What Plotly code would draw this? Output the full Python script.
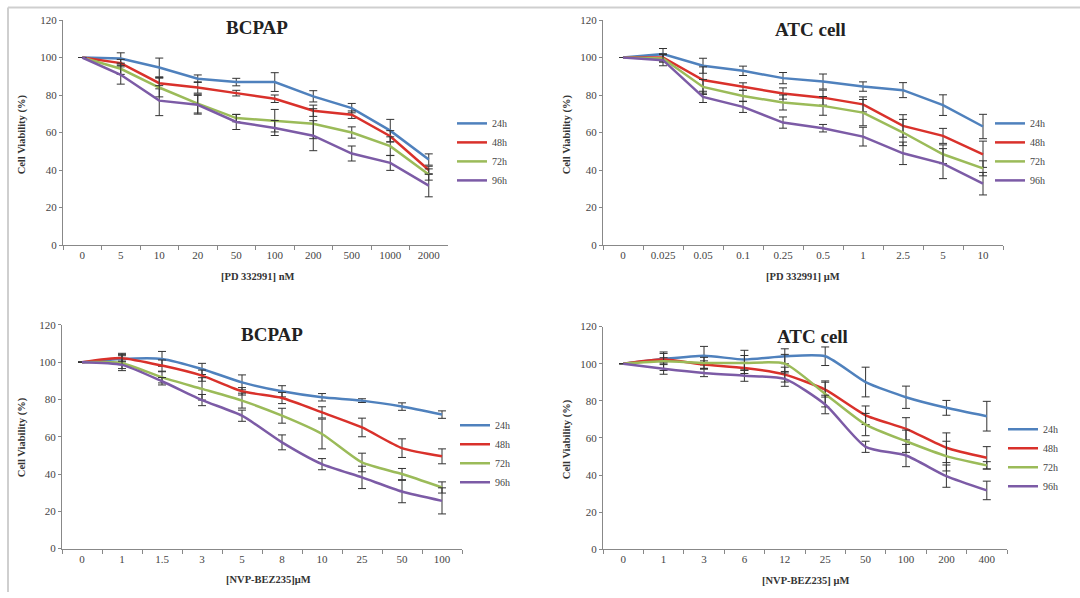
import plotly.graph_objects as go

W, H = 1080, 598

series_names = ["24h", "48h", "72h", "96h"]
colors = ["#4F81BD", "#D9312B", "#9BBB59", "#7C5BA6"]

# Panel 1: BCPAP, PD 332991 (nM)
p1_cats = ["0", "5", "10", "20", "50", "100", "200", "500", "1000", "2000"]
p1_vals = {
    "24h": [100, 99.5, 94.7, 88.7, 86.9, 86.9, 79.3, 73.0, 61.0, 45.6],
    "48h": [100, 97.0, 86.3, 84.0, 81.0, 78.0, 71.6, 69.5, 58.0, 40.0],
    "72h": [100, 94.0, 84.0, 75.4, 67.7, 66.3, 64.7, 60.0, 52.7, 37.6],
    "96h": [100, 90.8, 77.0, 74.8, 65.6, 62.4, 58.3, 48.8, 43.8, 31.7],
}
p1_err = {
    "24h": [0, 3, 5, 2, 2, 5, 3, 2.5, 6, 3],
    "48h": [0, 2, 3, 3, 1.5, 2, 3, 2, 3, 2],
    "72h": [0, 3, 5, 5, 2, 6, 8, 3, 5, 3],
    "96h": [0, 5, 8, 5, 4, 4, 8, 4, 4, 6],
}

# Panel 2: ATC cell, PD 332991 (uM)
p2_cats = ["0", "0.025", "0.05", "0.1", "0.25", "0.5", "1", "2.5", "5", "10"]
p2_vals = {
    "24h": [100, 101.8, 95.6, 92.9, 89.0, 87.2, 84.5, 82.6, 74.6, 63.2],
    "48h": [100, 100.0, 88.0, 84.5, 80.8, 78.6, 75.0, 63.5, 58.2, 48.4],
    "72h": [100, 99.5, 84.3, 79.5, 76.0, 74.2, 70.6, 60.0, 48.4, 40.9],
    "96h": [100, 98.6, 79.0, 73.7, 65.3, 62.3, 57.8, 48.9, 43.4, 32.7],
}
p2_err = {
    "24h": [0, 3, 4, 2.5, 3, 4, 2.5, 4, 5.5, 6.5],
    "48h": [0, 2, 7, 2, 3, 4, 4, 6, 4, 7],
    "72h": [0, 2, 4, 3, 4, 5, 7, 7, 5, 4],
    "96h": [0, 3, 3, 3, 3, 2, 5, 6, 8, 6],
}

# Panel 3: BCPAP, NVP-BEZ235 (uM)
p3_cats = ["0", "1", "1.5", "3", "5", "8", "10", "25", "50", "100"]
p3_vals = {
    "24h": [100, 101.8, 101.8, 96.4, 89.2, 84.4, 81.2, 79.4, 76.2, 71.9],
    "48h": [100, 102.2, 98.2, 92.8, 84.4, 80.8, 73.1, 65.0, 53.9, 49.5],
    "72h": [100, 99.5, 91.9, 85.7, 79.4, 71.3, 61.5, 46.2, 40.0, 32.8],
    "96h": [100, 98.6, 89.8, 79.7, 71.3, 57.0, 45.3, 38.2, 30.6, 25.6],
}
p3_err = {
    "24h": [0, 3, 4, 3, 4, 3, 2, 1, 2, 2],
    "48h": [0, 2, 3, 3, 2, 3, 3, 5, 5, 4],
    "72h": [0, 4, 3, 6, 4, 4, 8, 5, 3, 3],
    "96h": [0, 2, 2, 3, 3, 4, 3, 6, 6, 7],
}

# Panel 4: ATC cell, NVP-BEZ235 (uM)
p4_cats = ["0", "1", "3", "6", "12", "25", "50", "100", "200", "400"]
p4_vals = {
    "24h": [100, 102.5, 104.3, 102.2, 104.0, 104.0, 90.1, 81.9, 76.2, 71.7],
    "48h": [100, 102.2, 99.5, 97.7, 94.1, 86.0, 72.2, 64.9, 54.7, 49.3],
    "72h": [100, 101.3, 100.4, 100.4, 100.0, 83.7, 67.2, 58.2, 50.2, 45.2],
    "96h": [100, 97.3, 95.0, 93.5, 91.8, 78.0, 55.2, 50.5, 39.4, 31.7],
}
p4_err = {
    "24h": [0, 3, 5, 5, 4, 5, 8, 6, 4, 8],
    "48h": [0, 1, 2, 3, 4, 4, 5, 6, 8, 6],
    "72h": [0, 5, 3, 4, 5, 7, 6, 6, 8, 2],
    "96h": [0, 3, 2, 3, 4, 5, 3, 6, 6, 5],
}

titles = ["BCPAP", "ATC cell", "BCPAP", "ATC cell"]
xtitles = ["[PD 332991] nM", "[PD 332991] \u03bcM", "[NVP-BEZ235]\u03bcM", "[NVP-BEZ235] \u03bcM"]
ytitle = "Cell Viability (%)"

SERIF = "Liberation Serif, Times New Roman, serif"

# pixel geometry: (x_left, x_right, y_top(120), y_bottom(0))
geo = [
    (63, 448, 14.3, 243.9),
    (603, 1003, 14.3, 243.9),
    (62, 462, 325.5, 553.7),
    (603, 1007, 327.1, 554.4),
]
legend_pos = [(452, 105), (990, 105), (455, 413), (1003, 417)]
title_pos = [(257, 22), (810, 24), (272, 335), (812, 337)]
xtitle_pos = [(258, 276), (803, 276), (268, 585), (805, 586)]
ytitle_pos = [(22, 131), (567, 131), (22, 440), (567, 442)]
shapes_line = ["linear", "linear", "spline", "spline"]

panels = [
    (p1_cats, p1_vals, p1_err),
    (p2_cats, p2_vals, p2_err),
    (p3_cats, p3_vals, p3_err),
    (p4_cats, p4_vals, p4_err),
]

fig = go.Figure()
annotations = []
layout = dict(
    width=W, height=H,
    margin=dict(l=0, r=0, t=0, b=0),
    paper_bgcolor="white", plot_bgcolor="white",
    showlegend=True,
    font=dict(family=SERIF, size=10, color="#444"),
)

for i, (cats, vals, errs) in enumerate(panels):
    n = i + 1
    xa = "x" if n == 1 else f"x{n}"
    ya = "y" if n == 1 else f"y{n}"
    lg = "legend" if n == 1 else f"legend{n}"
    for s, c in zip(series_names, colors):
        fig.add_trace(go.Scatter(
            x=cats, y=vals[s], name=s, mode="lines",
            line=dict(color=c, width=2.5, shape=shapes_line[i], smoothing=0.6),
            error_y=dict(type="data", array=errs[s], visible=True,
                         color="#333", thickness=1, width=4),
            xaxis=xa, yaxis=ya, legend=lg,
        ))
    xl, xr, yt, yb = geo[i]
    layout[f"xaxis{'' if n == 1 else n}"] = dict(
        domain=[xl / W, xr / W], anchor=ya, type="category",
        tickson="boundaries", ticks="outside", ticklen=4, tickcolor="#888",
        showline=True, linecolor="#888", linewidth=1, showgrid=False,
        zeroline=False, range=[-0.5, 9.5],
        tickfont=dict(family=SERIF, size=11, color="#444"),
    )
    layout[f"yaxis{'' if n == 1 else n}"] = dict(
        domain=[1 - yb / H, 1 - yt / H], anchor=xa, range=[0, 120],
        dtick=20, tick0=0, ticks="outside", ticklen=3, tickcolor="#888",
        showline=True, linecolor="#888", linewidth=1, showgrid=False,
        zeroline=False,
        tickfont=dict(family=SERIF, size=11, color="#444"),
    )
    lx, ly = legend_pos[i]
    layout[lg] = dict(
        x=lx / W, y=1 - ly / H, xanchor="left", yanchor="top",
        bgcolor="rgba(0,0,0,0)", borderwidth=0,
        font=dict(family=SERIF, size=10, color="#444"),
        tracegroupgap=0, itemwidth=30,
    )
    tx, ty = title_pos[i]
    annotations.append(dict(
        text=f"<b>{titles[i]}</b>", x=tx / W, y=1 - ty / H, xref="paper",
        yref="paper", showarrow=False, xanchor="center", yanchor="middle",
        font=dict(family=SERIF, size=19, color="#222"),
    ))
    ax, ay = xtitle_pos[i]
    annotations.append(dict(
        text=f"<b>{xtitles[i]}</b>", x=ax / W, y=1 - ay / H, xref="paper",
        yref="paper", showarrow=False, xanchor="center", yanchor="middle",
        font=dict(family=SERIF, size=10.5, color="#333"),
    ))
    bx, by = ytitle_pos[i]
    annotations.append(dict(
        text=f"<b>{ytitle}</b>", x=bx / W, y=1 - by / H, xref="paper",
        yref="paper", showarrow=False, xanchor="center", yanchor="middle",
        textangle=-90, font=dict(family=SERIF, size=10.5, color="#333"),
    ))

layout["annotations"] = annotations
layout["shapes"] = [
    dict(type="line", xref="paper", yref="paper", x0=8 / W, x1=1, y0=1 - 1.5 / H, y1=1 - 1.5 / H,
         line=dict(color="#cfcfcf", width=2)),
    dict(type="line", xref="paper", yref="paper", x0=8 / W, x1=8 / W, y0=0, y1=1 - 1.5 / H,
         line=dict(color="#cfcfcf", width=2)),
]
fig.update_layout(**layout)
fig.write_html(
    "out.html",
    config={"displayModeBar": False},
    post_script=(
        "document.documentElement.style.margin='0';"
        "document.body.style.margin='0';"
        "document.documentElement.style.overflow='hidden';"
        "document.body.style.overflow='hidden';"
        "var d=document.getElementById('{plot_id}');"
        "d.style.position='fixed';d.style.left='0px';d.style.top='0px';"
    ),
)
